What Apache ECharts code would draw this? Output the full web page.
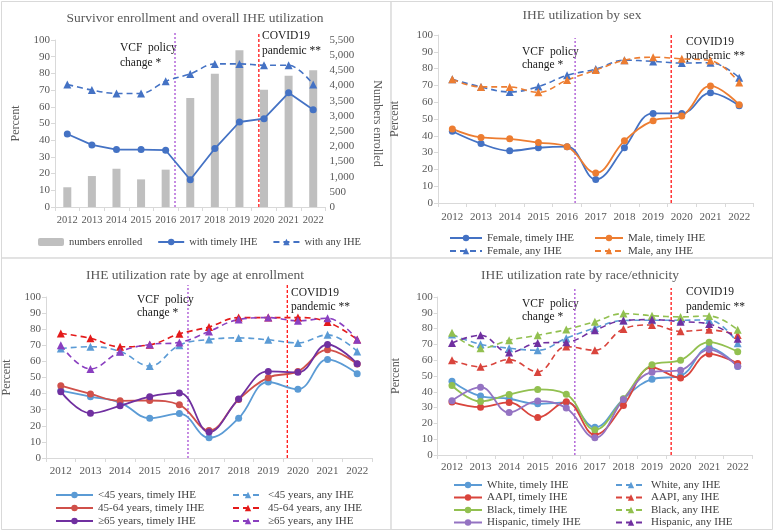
<!DOCTYPE html>
<html>
<head>
<meta charset="utf-8">
<script src="https://cdn.jsdelivr.net/npm/echarts@6/dist/echarts.min.js"></script>
<style>
html,body{margin:0;padding:0;background:#fff;}
#chart{width:774px;height:531px;}
</style>
</head>
<body>
<div id="chart"></div>
<script>
// ---------- DATA ----------
const years = ['2012','2013','2014','2015','2016','2017','2018','2019','2020','2021','2022'];

// Panel 1: overall
const enrolled      = [650, 1020, 1260, 910, 1230, 3590, 4385, 5160, 3860, 4320, 4500];
const overallTimely = [43.7, 37.2, 34.4, 34.4, 34.0, 16.3, 35.0, 50.9, 52.9, 68.4, 58.3];
const overallAny    = [73.4, 70.0, 68.0, 68.0, 75.3, 79.7, 85.7, 85.7, 84.9, 84.9, 73.4];

// Panel 2: sex
const femaleTimely = [42.7, 35.4, 31.1, 32.9, 33.5, 14.0, 32.9, 53.3, 53.3, 65.6, 57.9];
const maleTimely   = [44.1, 39.0, 38.2, 36.0, 33.5, 17.9, 37.0, 49.0, 51.8, 69.7, 58.5];
const femaleAny    = [73.6, 69.1, 66.1, 69.3, 76.0, 79.7, 85.0, 84.3, 83.3, 83.5, 74.6];
const maleAny      = [73.6, 69.1, 69.1, 65.9, 73.2, 79.1, 85.0, 86.8, 85.8, 84.8, 71.7];

// Panel 3: age
const ageLt45Timely = [41.9, 38.1, 34.4, 24.7, 27.6, 12.6, 24.7, 47.2, 42.7, 61.2, 52.4];
const age4564Timely = [44.9, 39.8, 35.5, 35.7, 33.0, 17.1, 36.3, 49.9, 53.8, 67.2, 58.4];
const ageGe65Timely = [41.2, 27.8, 32.4, 38.1, 40.4, 16.1, 36.7, 53.8, 53.2, 70.5, 58.6];
const ageLt45Any    = [68.0, 69.1, 66.2, 57.1, 70.1, 73.6, 74.6, 73.4, 71.5, 76.5, 66.2];
const age4564Any    = [77.3, 74.4, 69.1, 70.3, 77.1, 81.4, 87.2, 87.2, 87.2, 84.5, 73.6];
const ageGe65Any    = [70.1, 55.3, 66.0, 70.5, 71.8, 78.6, 86.0, 87.2, 85.2, 86.8, 73.4];

// Panel 4: race/ethnicity
const whiteTimely    = [46.7, 37.3, 35.6, 32.4, 33.3, 17.5, 35.4, 48.0, 50.1, 68.0, 56.0];
const aapiTimely     = [33.5, 30.3, 33.3, 23.8, 33.7, 12.8, 31.4, 55.4, 48.8, 64.0, 57.9];
const blackTimely    = [44.0, 33.9, 38.3, 41.5, 38.5, 16.0, 35.6, 57.1, 60.0, 71.4, 65.3];
const hispanicTimely = [34.3, 42.9, 26.9, 34.1, 29.7, 10.9, 35.2, 52.4, 53.7, 66.7, 56.2];
const whiteAny       = [76.2, 70.1, 67.6, 66.3, 73.9, 80.4, 85.1, 85.3, 85.3, 85.5, 70.7];
const aapiAny        = [60.0, 55.8, 60.4, 52.6, 68.6, 66.3, 79.8, 82.3, 78.3, 79.2, 76.0];
const blackAny       = [77.3, 67.6, 72.6, 75.8, 79.4, 84.4, 89.5, 88.2, 87.4, 88.0, 79.2];
const hispanicAny    = [70.9, 75.8, 64.8, 70.9, 71.4, 78.9, 85.1, 85.7, 84.4, 82.9, 73.5];

// Event marker positions (category index units, 0 = 2012)
const vcfLinePos   = [4.38, 4.28, 4.31, 4.30];
const covidLinePos = [7.79, 7.63, 7.65, 7.67];

const percentTicks = {min: 0, max: 100, interval: 10};
const enrolledTicks = {min: 0, max: 5500, interval: 500};

// ---------- STYLE ----------
const FONT = "'Liberation Serif', 'Times New Roman', serif";
const TXT = '#595959';
const AXC = '#d9d9d9';

const grids = [
  {left: 55,    top: 40,  width: 270.5, height: 167},
  {left: 438,   top: 35,  width: 315.5, height: 168},
  {left: 45,    top: 297, width: 327,   height: 161},
  {left: 437.7, top: 297, width: 314.3, height: 158}
];
const overlayTops = [32, 33, 285, 288];

const gridOpt = [];
grids.forEach(g => gridOpt.push(Object.assign({containLabel: false}, g)));
grids.forEach((g, i) => {
  const bottom = g.top + g.height;
  gridOpt.push({left: g.left, width: g.width, top: overlayTops[i], height: bottom - overlayTops[i]});
});

const labelMargins = [8, 9, 8, 7];
const labelSizes = [10.5, 11, 11, 11];
const xAxes = [];
grids.forEach((g, i) => {
  xAxes.push({
    type: 'category', gridIndex: i, data: years, boundaryGap: true,
    axisLine: {lineStyle: {color: AXC, width: 1}},
    axisTick: {show: true, length: 4, lineStyle: {color: AXC}},
    axisLabel: {color: TXT, fontFamily: FONT, fontSize: labelSizes[i], margin: labelMargins[i], interval: 0, hideOverlap: false},
    splitLine: {show: false}
  });
});
grids.forEach((g, i) => {
  xAxes.push({type: 'value', gridIndex: 4 + i, min: -0.5, max: 10.5, show: false});
});

const nameGaps = [33, 37, 33, 36];
const yAxes = [];
grids.forEach((g, i) => {
  yAxes.push({
    type: 'value', gridIndex: i, min: percentTicks.min, max: percentTicks.max, interval: percentTicks.interval,
    name: 'Percent', nameLocation: 'middle', nameGap: nameGaps[i],
    nameTextStyle: {color: TXT, fontFamily: FONT, fontSize: 12},
    axisLine: {show: true, lineStyle: {color: AXC}},
    axisTick: {show: true, length: 4, lineStyle: {color: AXC}},
    axisLabel: {color: TXT, fontFamily: FONT, fontSize: 11, margin: 5},
    splitLine: {show: false}
  });
});
// right axis for enrolled (index 4)
yAxes.push({
  type: 'value', gridIndex: 0, position: 'right',
  min: enrolledTicks.min, max: enrolledTicks.max, interval: enrolledTicks.interval,
  name: 'Numbers enrolled', nameLocation: 'middle', nameGap: 46, nameRotate: -90,
  nameTextStyle: {color: TXT, fontFamily: FONT, fontSize: 12},
  axisLine: {show: false},
  axisTick: {show: false},
  axisLabel: {color: TXT, fontFamily: FONT, fontSize: 11, margin: 4,
    formatter: v => v.toLocaleString('en-US')},
  splitLine: {show: false}
});
// overlay y axes (5..8)
grids.forEach((g, i) => {
  yAxes.push({type: 'value', gridIndex: 4 + i, min: 0, max: 1, show: false});
});

function lineSeries(name, data, xi, yi, color, dashed, smooth) {
  return {
    name: name, type: 'line', data: data, xAxisIndex: xi, yAxisIndex: yi,
    smooth: smooth, showAllSymbol: true,
    symbol: dashed ? 'triangle' : 'circle',
    symbolSize: dashed ? 8 : 7,
    itemStyle: {color: color},
    lineStyle: {color: color, width: dashed ? 1.6 : 1.8, type: dashed ? [6, 4] : 'solid'},
    z: 3
  };
}

function vline(gridI, x, frac, color, dash) {
  return {
    type: 'line', xAxisIndex: 4 + gridI, yAxisIndex: 5 + gridI,
    data: [[x, 0], [x, frac]], symbol: 'none', silent: true,
    lineStyle: {color: color, width: 1.2, type: dash}, z: 2
  };
}

const BLUE = '#4472C4', ORANGE = '#ED7D31';
const LBLUE = '#5B9BD5', MRED = '#D0504A', BRED = '#E41A1A', PURPLE = '#7030A0', PURPLE2 = '#8A3FC0';
const RRED = '#D9443C', GREEN = '#92C050', LAV = '#9473C2';

const series = [
  // Panel 1
  {name: 'numbers enrolled', type: 'bar', data: enrolled, xAxisIndex: 0, yAxisIndex: 4,
   barWidth: 8, itemStyle: {color: '#BFBFBF'}, z: 1},
  lineSeries('with timely IHE', overallTimely, 0, 0, BLUE, false, false),
  lineSeries('with any IHE', overallAny, 0, 0, BLUE, true, 0.35),
  // Panel 2
  lineSeries('Female, timely IHE', femaleTimely, 1, 1, BLUE, false, 0.4),
  lineSeries('Male, timely IHE', maleTimely, 1, 1, ORANGE, false, 0.4),
  lineSeries('Female, any IHE', femaleAny, 1, 1, BLUE, true, 0.4),
  lineSeries('Male, any IHE', maleAny, 1, 1, ORANGE, true, 0.4),
  // Panel 3
  lineSeries('<45 years, timely IHE', ageLt45Timely, 2, 2, LBLUE, false, 0.4),
  lineSeries('45-64 years, timely IHE', age4564Timely, 2, 2, MRED, false, 0.4),
  lineSeries('\u226565 years, timely IHE', ageGe65Timely, 2, 2, PURPLE, false, 0.4),
  lineSeries('<45 years, any IHE', ageLt45Any, 2, 2, LBLUE, true, 0.4),
  lineSeries('45-64 years, any IHE', age4564Any, 2, 2, BRED, true, 0.4),
  lineSeries('\u226565 years, any IHE', ageGe65Any, 2, 2, PURPLE2, true, 0.4),
  // Panel 4
  lineSeries('White, timely IHE', whiteTimely, 3, 3, LBLUE, false, 0.4),
  lineSeries('AAPI, timely IHE', aapiTimely, 3, 3, RRED, false, 0.4),
  lineSeries('Black, timely IHE', blackTimely, 3, 3, GREEN, false, 0.4),
  lineSeries('Hispanic, timely IHE', hispanicTimely, 3, 3, LAV, false, 0.4),
  lineSeries('White, any IHE', whiteAny, 3, 3, LBLUE, true, 0.4),
  lineSeries('AAPI, any IHE', aapiAny, 3, 3, RRED, true, 0.4),
  lineSeries('Black, any IHE', blackAny, 3, 3, GREEN, true, 0.4),
  lineSeries('Hispanic, any IHE', hispanicAny, 3, 3, PURPLE, true, 0.4),
  // event markers
  vline(0, vcfLinePos[0], 1, '#A040D0', [2, 2]),
  vline(0, covidLinePos[0], 1, '#FF0000', [3, 2]),
  vline(1, vcfLinePos[1], 0.97, '#A040D0', [2, 2]),
  vline(1, covidLinePos[1], 1, '#FF0000', [3, 2]),
  vline(2, vcfLinePos[2], 1, '#A040D0', [2, 2]),
  vline(2, covidLinePos[2], 1, '#FF0000', [3, 2]),
  vline(3, vcfLinePos[3], 1, '#A040D0', [2, 2]),
  vline(3, covidLinePos[3], 1, '#FF0000', [3, 2])
];

const legendText = {color: '#404040', fontFamily: FONT, fontSize: 11, lineHeight: 12};
function legend(data, left, top, itemWidth, orient, gap, fs) {
  const ts = Object.assign({}, legendText);
  if (fs) ts.fontSize = fs;
  return {data: data, left: left, top: top, orient: orient || 'vertical',
    itemWidth: itemWidth, itemHeight: 8, itemGap: gap == null ? 1 : gap,
    padding: 0, textStyle: ts, selectedMode: false};
}

const legends = [
  legend(['numbers enrolled', 'with timely IHE', 'with any IHE'], 38, 236, 26, 'horizontal', 15, 10.5),
  legend(['Female, timely IHE', 'Female, any IHE'], 449, 232, 32),
  legend(['Male, timely IHE', 'Male, any IHE'], 594, 232, 28),
  legend(['<45 years, timely IHE', '45-64 years, timely IHE', '\u226565 years, timely IHE'], 55, 489, 37),
  legend(['<45 years, any IHE', '45-64 years, any IHE', '\u226565 years, any IHE'], 232, 489, 30),
  legend(['White, timely IHE', 'AAPI, timely IHE', 'Black, timely IHE', 'Hispanic, timely IHE'], 453, 479, 28, 'vertical', 0.5),
  legend(['White, any IHE', 'AAPI, any IHE', 'Black, any IHE', 'Hispanic, any IHE'], 615, 479, 30, 'vertical', 0.5)
];

const titleStyle = {color: TXT, fontFamily: FONT, fontSize: 13.5, fontWeight: 'normal'};
const titles = [
  {text: 'Survivor enrollment and overall IHE utilization', left: 195, top: 11, textAlign: 'center', textStyle: titleStyle, padding: 0},
  {text: 'IHE utilization by sex', left: 582, top: 8, textAlign: 'center', textStyle: titleStyle, padding: 0},
  {text: 'IHE utilization rate by age at enrollment', left: 195, top: 268, textAlign: 'center', textStyle: titleStyle, padding: 0},
  {text: 'IHE utilization rate by race/ethnicity', left: 580, top: 268, textAlign: 'center', textStyle: titleStyle, padding: 0}
];

function note(text, x, y, lh) {
  return {type: 'text', left: x, top: y, silent: true,
    style: {text: text, fill: '#1a1a1a', font: '11.5px ' + FONT, lineHeight: lh}};
}
function box(x, y, w, h) {
  return {type: 'rect', shape: {x: x, y: y, width: w, height: h}, silent: true,
    style: {fill: 'none', stroke: '#d9d9d9', lineWidth: 1}, z: -1};
}

const graphics = [
  box(1.5, 1.5, 389.5, 256.5),
  box(391, 1.5, 381.5, 256.5),
  box(1.5, 258, 389.5, 271.5),
  box(391, 258, 381.5, 271.5),
  note('VCF  policy\nchange *', 120, 40, 15),
  note('COVID19\npandemic **', 262, 28, 15),
  note('VCF  policy\nchange *', 522, 45, 13.5),
  note('COVID19\npandemic **', 686, 35, 14),
  note('VCF  policy\nchange *', 137, 293, 13),
  note('COVID19\npandemic **', 291, 286, 14),
  note('VCF  policy\nchange *', 522, 297, 13.5),
  note('COVID19\npandemic **', 686, 285, 14.5)
];

const chart = echarts.init(document.getElementById('chart'), null, {renderer: 'canvas'});
chart.setOption({
  animation: false,
  backgroundColor: '#fff',
  title: titles,
  grid: gridOpt,
  xAxis: xAxes,
  yAxis: yAxes,
  legend: legends,
  series: series,
  graphic: graphics
});
</script>
</body>
</html>
